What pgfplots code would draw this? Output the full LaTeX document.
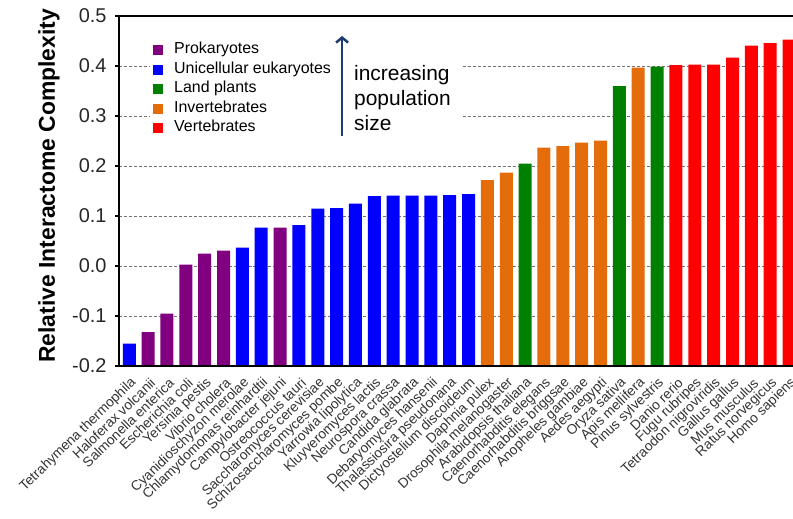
\documentclass[border=0pt]{standalone}
\usepackage{fontspec}
\setmainfont{Liberation Sans}
\usepackage{pgfplots}
\pgfplotsset{compat=1.18}
\usetikzlibrary{arrows.meta}
\definecolor{prok}{HTML}{800080}
\definecolor{uni}{HTML}{0000FF}
\definecolor{plant}{HTML}{008000}
\definecolor{invert}{HTML}{E46C0A}
\definecolor{vert}{HTML}{FF0000}
\definecolor{navy}{HTML}{1F3A6E}
\begin{document}
\begin{tikzpicture}
\begin{axis}[
    name=ax, at={(0,0)}, anchor=south west,
    scale only axis, width=674bp, height=350bp,
    xmin=0.454, xmax=36.21, ymin=-0.2, ymax=0.5,
    y coord trafo/.code={\pgfmathparse{#1+0.2}},
    y coord inv trafo/.code={\pgfmathparse{#1-0.2}},
    axis line style={draw=none},
    ytick={-0.2,-0.1,0,0.1,0.2,0.3,0.4,0.5},
    yticklabels={-0.2,-0.1,0.0,0.1,0.2,0.3,0.4,0.5},
    ytick pos=left, tick align=outside,
    major tick length=4bp,
    y tick style={line width=1.5bp, black},
    yticklabel style={font=\fontsize{20}{20}\selectfont, text=black!85, xshift=-5bp},
    ymajorgrids,
    grid style={densely dashed, black!55, line width=0.5pt},
    xtick={1,...,36},
    x tick style={draw=none},
    xticklabels={Tetrahymena thermophila, Haloferax volcanii, Salmonella enterica,
      Escherichia coli, Yersinia pestis, Vibrio cholera, Cyanidioschyzon merolae,
      Chlamydomonas reinhardtii, Campylobacter jejuni, Ostreococcus tauri,
      Saccharomyces cerevisiae, Schizosaccharomyces pombe, Yarrowia lipolytica,
      Kluyveromyces lactis, Neurospora crassa, Candida glabrata,
      Debaryomyces hansenii, Thalassiosira pseudonana, Dictyostelium discoideum,
      Daphnia pulex, Drosophila melanogaster, Arabidopsis thaliana,
      Caenorhabditis elegans, Caenorhabditis briggsae, Anopheles gambiae,
      Aedes aegypti, Oryza sativa, Apis mellifera, Pinus sylvestris,
      Danio rerio, Fugu rubripes, Tetraodon nigroviridis, Gallus gallus,
      Mus musculus, Ratus norvegicus, Homo sapiens},
    xticklabel style={rotate=44, anchor=east, font=\fontsize{13.8}{13.8}\selectfont,
      text=black!80, inner sep=1bp, xshift=-3bp, yshift=-11bp},
    ylabel={\bfseries Relative Interactome Complexity},
    ylabel style={at={(axis description cs:-0.104,0.515)}, anchor=center,
      font=\fontsize{23}{23}\selectfont},
    mybar/.style={ybar, bar width=13bp, bar shift=0pt, draw=none,
      legend image code/.code={\fill[##1] (0bp,-5bp) rectangle (10bp,5bp);}},
    legend style={at={(rel axis cs:0.0504,0.931)}, anchor=north west,
      draw=none, fill=none, font=\fontsize{16}{16}\selectfont,
      row sep=0pt, column sep=9bp, inner sep=0pt,
      nodes={inner sep=2bp, text height=11.5bp, text depth=4bp}},
    legend cell align=left,
]
\addplot[mybar, fill=prok] coordinates {
  (2,-0.132) (3,-0.095) (4,0.003) (5,0.025) (6,0.031) (9,0.077)};
\addlegendentry{Prokaryotes}
\addplot[mybar, fill=uni] coordinates {
  (1,-0.155) (7,0.037) (8,0.077) (10,0.082) (11,0.115) (12,0.116)
  (13,0.125) (14,0.140) (15,0.141) (16,0.141) (17,0.141) (18,0.142) (19,0.144)};
\addlegendentry{Unicellular eukaryotes}
\addplot[mybar, fill=plant] coordinates {
  (22,0.205) (27,0.360) (29,0.399)};
\addlegendentry{Land plants}
\addplot[mybar, fill=invert] coordinates {
  (20,0.172) (21,0.187) (23,0.237) (24,0.240) (25,0.247) (26,0.251) (28,0.397)};
\addlegendentry{Invertebrates}
\addplot[mybar, fill=vert] coordinates {
  (30,0.402) (31,0.403) (32,0.403) (33,0.417) (34,0.441) (35,0.446) (36,0.453)};
\addlegendentry{Vertebrates}
\fill[white] (rel axis cs:0.046,0.64) rectangle (rel axis cs:0.510,0.96);
\draw[navy, line width=2.5bp, -{Straight Barb[length=5bp, width=12bp]}]
  (rel axis cs:0.331,0.657) -- (rel axis cs:0.331,0.943);
\node[align=left, anchor=west, inner sep=0pt, font=\fontsize{21}{25.5}\selectfont]
  at (rel axis cs:0.3487,0.7657) {increasing\\population\\size};
\end{axis}
\draw[line width=2bp] (ax.north east) -- (ax.north west) -- (ax.south west) -- (ax.south east);
\pgfresetboundingbox
\path[use as bounding box] (-119bp,-153bp) rectangle (674bp,366bp);
\end{tikzpicture}
\end{document}
